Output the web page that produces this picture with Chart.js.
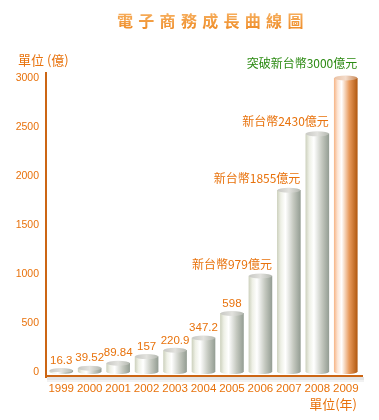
<!DOCTYPE html>
<html>
<head>
<meta charset="utf-8">
<script src="https://cdn.jsdelivr.net/npm/chart.js@4.4.1/dist/chart.umd.min.js"></script>
<style>
  html, body { margin: 0; padding: 0; background: #fff; }
  #wrap { position: relative; width: 379px; height: 420px; }
</style>
</head>
<body>
<div id="wrap"><canvas id="myChart" width="379" height="420"></canvas></div>
<script>
let years = ["1999", "2000", "2001", "2002", "2003", "2004", "2005", "2006", "2007", "2008", "2009"];
let values = [16.3, 39.52, 89.84, 157, 220.9, 347.2, 598, 979, 1855, 2430, 3000];
let valueLabels = ["16.3", "39.52", "89.84", "157", "220.9", "347.2", "598",
  "新台幣979億元", "新台幣1855億元", "新台幣2430億元", "突破新台幣3000億元"];
let yTicks = [0, 500, 1000, 1500, 2000, 2500, 3000];

let orange = "#e8720c";
let green = "#2b8a12";
let cjk = "'Noto Sans CJK TC', 'DejaVu Sans', sans-serif";
let num = "'Liberation Sans', 'DejaVu Sans', sans-serif";
let barW = 23;

function barGradient(ctx, cx, w, hot) {
  let g = ctx.createLinearGradient(cx - w / 2, 0, cx + w / 2, 0);
  if (hot) {
    g.addColorStop(0, "#f6b88c");
    g.addColorStop(0.15, "#fde6d6");
    g.addColorStop(0.32, "#ffffff");
    g.addColorStop(0.65, "#e89a5c");
    g.addColorStop(1, "#b25a12");
  } else {
    g.addColorStop(0, "#cfd3c0");
    g.addColorStop(0.15, "#eef0e6");
    g.addColorStop(0.35, "#ffffff");
    g.addColorStop(0.7, "#c4c8bf");
    g.addColorStop(1, "#959e94");
  }
  return g;
}

// cylinder tops, value labels, axis lines, titles
let decor = {
  id: "decor",
  beforeDatasetsDraw(chart) {
    let ctx = chart.ctx;
    let area = chart.chartArea;
    let top = chart.scales.y.getPixelForValue(3000);
    ctx.save();
    ctx.fillStyle = "#e4e4e4";
    ctx.fillRect(area.left, area.bottom + 5, area.right + 4 - area.left, 3);
    ctx.fillStyle = "#f2f2f2";
    ctx.fillRect(area.left, area.bottom + 8, area.right + 4 - area.left, 2);
    ctx.fillStyle = "#cc6614";
    ctx.fillRect(area.left - 2, top - 6, 2, area.bottom + 12 - top);
    ctx.fillRect(area.left - 2, area.bottom + 3, area.right + 5 - area.left, 2);
    ctx.restore();
  },
  afterDatasetsDraw(chart) {
    let ctx = chart.ctx;
    let meta = chart.getDatasetMeta(0);
    ctx.save();
    meta.data.forEach(function (bar, i) {
      let hot = i == meta.data.length - 1;
      let w = bar.width;
      ctx.beginPath();
      ctx.ellipse(bar.x, bar.y, w / 2, 2.5, 0, 0, Math.PI * 2);
      let g = ctx.createLinearGradient(bar.x - w / 2, 0, bar.x + w / 2, 0);
      if (hot) {
        g.addColorStop(0, "#e9c2a6");
        g.addColorStop(0.5, "#f4dccb");
        g.addColorStop(1, "#c98a5a");
      } else {
        g.addColorStop(0, "#c8c8c4");
        g.addColorStop(0.5, "#e2e2de");
        g.addColorStop(1, "#b4b8b0");
      }
      ctx.fillStyle = g;
      ctx.fill();
      ctx.beginPath();
      ctx.ellipse(bar.x, bar.base, w / 2, 2, 0, 0, Math.PI);
      ctx.fillStyle = barGradient(ctx, bar.x, w, hot);
      ctx.fill();

      let text = valueLabels[i];
      ctx.textBaseline = "middle";
      ctx.fillStyle = hot ? green : orange;
      if (text.length > 6) {
        ctx.font = "12px " + cjk;
        ctx.textAlign = "right";
        ctx.fillText(text, bar.x + w / 2, bar.y - (hot ? 15 : 12));
      } else {
        ctx.font = "11.5px " + num;
        ctx.textAlign = "center";
        ctx.fillText(text, bar.x, bar.y - 10);
      }
    });

    ctx.textBaseline = "middle";
    ctx.font = "bold 16px " + cjk;
    ctx.textAlign = "left";
    let title = "電子商務成長曲線圖";
    let x = 117;
    let tg = ctx.createLinearGradient(0, 12, 0, 28);
    tg.addColorStop(0, "#f7b060");
    tg.addColorStop(1, "#ef8f2c");
    ctx.fillStyle = tg;
    for (let ch of title) {
      ctx.fillText(ch, x, 21);
      x += 21.3;
    }
    ctx.fillStyle = orange;
    ctx.font = "13px " + cjk;
    ctx.fillText("單位 (億)", 18, 60);
    ctx.textAlign = "right";
    ctx.fillText("單位(年)", 357, 404);
    ctx.restore();
  },
};

new Chart(document.getElementById("myChart"), {
  type: "bar",
  data: {
    labels: years,
    datasets: [
      {
        data: values,
        backgroundColor: function (c) {
          let xs = c.chart.scales.x;
          if (!xs || c.dataIndex === undefined) return "#ddd";
          let cx = xs.getPixelForValue(c.dataIndex);
          if (!isFinite(cx)) return "#ddd";
          return barGradient(c.chart.ctx, cx, barW, c.dataIndex == years.length - 1);
        },
        borderWidth: 0,
        barThickness: barW,
      },
    ],
  },
  options: {
    responsive: false,
    animation: false,
    layout: { padding: { top: 78, right: 19, left: 0, bottom: 0 } },
    plugins: { legend: { display: false }, tooltip: { enabled: false } },
    scales: {
      x: {
        grid: { display: false, drawTicks: false },
        border: { display: false },
        ticks: { color: orange, font: { size: 11.5, family: num }, padding: 10, maxRotation: 0, autoSkip: false },
        afterFit: function (scale) { scale.height = 48; },
      },
      y: {
        min: 0,
        max: 3000,
        afterBuildTicks: function (scale) { scale.ticks = yTicks.map(function (v) { return { value: v }; }); },
        grid: { display: false, drawTicks: false },
        border: { display: false },
        ticks: {
          color: orange,
          font: { size: 10.5, family: num },
          padding: 8,
          callback: function (v) { return String(v); },
        },
        afterFit: function (scale) { scale.width = 47; },
      },
    },
  },
  plugins: [decor],
});
</script>
</body>
</html>
